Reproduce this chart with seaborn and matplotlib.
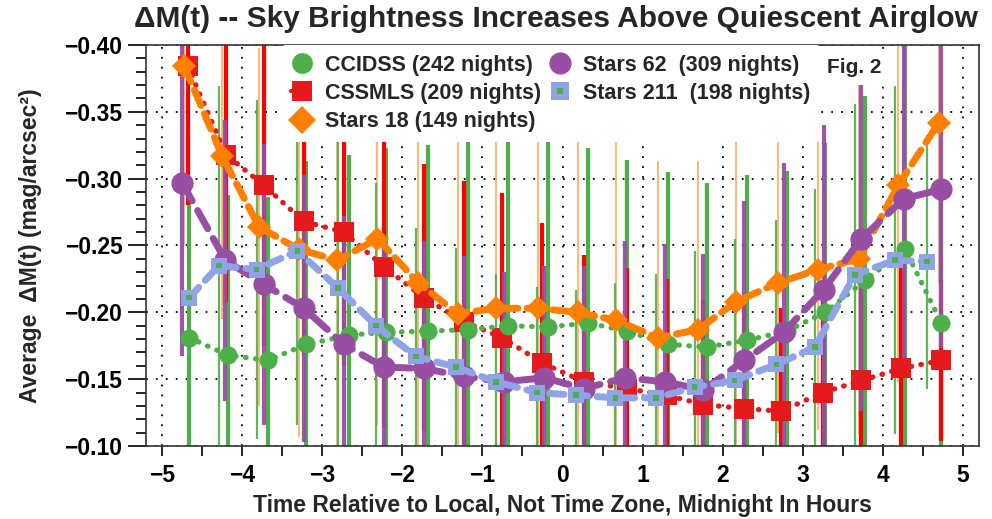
import numpy as np
import pandas as pd
import matplotlib
matplotlib.use("Agg")
import matplotlib.pyplot as plt
import seaborn as sns
from matplotlib.lines import Line2D
from matplotlib.ticker import MultipleLocator, FuncFormatter

# data (hours from local midnight, delta M in mag/arcsec^2)
ccidss_x = [-4.66, -4.18, -3.68, -3.20, -2.66, -2.20, -1.68, -1.18, -0.68, -0.18,
            0.32, 0.80, 1.32, 1.80, 2.30, 2.80, 3.28, 3.78, 4.28, 4.73]
ccidss_y = [-0.181, -0.168, -0.164, -0.176, -0.183, -0.185, -0.186, -0.187, -0.190, -0.189,
            -0.192, -0.186, -0.176, -0.174, -0.179, -0.186, -0.200, -0.224, -0.247, -0.192]
ccidss_err = [0.116, 0.12, 0.122, 0.137, 0.135, 0.138, 0.139, 0.143, 0.142, 0.142,
              0.131, 0.128, 0.129, 0.123, 0.124, 0.12, 0.127, 0.138, 0.16, 0.095]

cssmls_x = [-4.68, -4.20, -3.73, -3.23, -2.73, -2.23, -1.73, -1.23, -0.75, -0.25,
            0.27, 0.80, 1.30, 1.76, 2.26, 2.73, 3.25, 3.73, 4.23, 4.73]
cssmls_y = [-0.384, -0.318, -0.295, -0.268, -0.260, -0.234, -0.211, -0.193, -0.181, -0.162,
            -0.148, -0.143, -0.138, -0.131, -0.128, -0.126, -0.140, -0.149, -0.158, -0.164]
cssmls_err = [0.104, 0.11, 0.12, 0.1, 0.1, 0.12, 0.1, 0.105, 0.108, 0.105,
              0.095, 0.09, 0.087, 0.078, 0.08, 0.077, 0.08, 0.09, 0.09, 0.06]

stars18_x = [-4.72, -4.25, -3.79, -3.29, -2.81, -2.31, -1.80, -1.31, -0.83, -0.31,
             0.19, 0.67, 1.19, 1.69, 2.17, 2.69, 3.19, 3.70, 4.19, 4.70]
stars18_y = [-0.384, -0.317, -0.264, -0.247, -0.239, -0.255, -0.222, -0.199, -0.203, -0.203,
             -0.200, -0.194, -0.181, -0.187, -0.208, -0.222, -0.232, -0.240, -0.295, -0.342]
stars18_err = [0.134, 0.122, 0.134, 0.14, 0.14, 0.14, 0.13, 0.13, 0.14, 0.14,
               0.14, 0.137, 0.132, 0.126, 0.121, 0.112, 0.12, 0.132, 0.147, 0.12]

stars62_x = [-4.75, -4.21, -3.73, -3.23, -2.73, -2.23, -1.73, -1.23, -0.73, -0.23,
             0.27, 0.78, 1.28, 1.76, 2.27, 2.76, 3.26, 3.73, 4.26, 4.73]
stars62_y = [-0.297, -0.239, -0.221, -0.203, -0.176, -0.159, -0.158, -0.152, -0.148, -0.151,
             -0.143, -0.151, -0.148, -0.142, -0.164, -0.185, -0.217, -0.255, -0.285, -0.292]
stars62_err = [0.13, 0.105, 0.105, 0.10, 0.096, 0.095, 0.095, 0.09, 0.082, 0.084,
               0.092, 0.102, 0.103, 0.102, 0.119, 0.127, 0.123, 0.129, 0.134, 0.119]

stars211_x = [-4.66, -4.29, -3.82, -3.31, -2.80, -2.33, -1.83, -1.33, -0.83, -0.32,
              0.17, 0.66, 1.17, 1.65, 2.15, 2.67, 3.15, 3.65, 4.15, 4.55]
stars211_y = [-0.211, -0.235, -0.232, -0.246, -0.218, -0.190, -0.167, -0.159, -0.148, -0.140,
              -0.138, -0.136, -0.136, -0.144, -0.149, -0.161, -0.174, -0.228, -0.239, -0.238]
stars211_err = [0.12, 0.134, 0.127, 0.13, 0.13, 0.107, 0.096, 0.089, 0.081, 0.079,
                0.079, 0.086, 0.093, 0.102, 0.106, 0.108, 0.118, 0.128, 0.13, 0.095]

labels = ["CCIDSS (242 nights)", "CSSMLS (209 nights)", "Stars 18 (149 nights)",
          "Stars 62  (309 nights)", "Stars 211  (198 nights)"]

GREEN = "#4daf4a"
RED = "#e41a1c"
ORANGE = "#ff7f00"
PURPLE = "#984ea3"
LBLUE = "#8fa3e6"

sns.set_theme(style="white")
plt.rcParams["font.family"] = ["Liberation Sans", "DejaVu Sans"]
plt.rcParams["font.weight"] = "bold"
plt.rcParams["axes.unicode_minus"] = True

fig = plt.figure(figsize=(9.92, 5.19), dpi=100)
ax = fig.add_axes([0.1472, 0.1407, 0.8397, 0.7726])

# error bars first
ax.errorbar(stars18_x, stars18_y, yerr=stars18_err, fmt="none", ecolor="#ff9933",
            elinewidth=1.3, alpha=0.75, zorder=2)
ax.errorbar(stars211_x, stars211_y, yerr=stars211_err, fmt="none", ecolor=GREEN,
            elinewidth=1.6, alpha=0.9, zorder=2.1)
ax.errorbar(ccidss_x, ccidss_y, yerr=ccidss_err, fmt="none", ecolor=GREEN,
            elinewidth=3, zorder=2.2)
ax.errorbar(cssmls_x, cssmls_y, yerr=cssmls_err, fmt="none", ecolor="#ff0000",
            elinewidth=3, zorder=2.3)
ax.errorbar(stars62_x, stars62_y, yerr=stars62_err, fmt="none", ecolor=PURPLE,
            elinewidth=3, alpha=0.95, zorder=2.4)

dotted = (0, (0.1, 1.8))
series = [
    (ccidss_x, ccidss_y, dict(color=GREEN, lw=3.8, linestyle=dotted, marker="o", markersize=13, zorder=4)),
    (cssmls_x, cssmls_y, dict(color=RED, lw=3.8, linestyle=dotted, marker="s", markersize=14, zorder=3)),
    (stars18_x, stars18_y, dict(color=ORANGE, lw=5, linestyle=(0, (2.4, 1.3)), marker="D", markersize=12, zorder=5)),
    (stars62_x, stars62_y, dict(color=PURPLE, lw=5, linestyle=(0, (3.0, 1.6)), marker="o", markersize=16, zorder=6)),
    (stars211_x, stars211_y, dict(color=LBLUE, lw=5, linestyle=(0, (2.0, 1.4)), marker="s", markersize=12, zorder=7)),
]
for xs, ys, kw in series:
    df = pd.DataFrame({"x": xs, "y": ys})
    sns.lineplot(data=df, x="x", y="y", ax=ax, sort=False, estimator=None, errorbar=None,
                 dash_capstyle="round", markeredgewidth=0, **kw)

# green centre of the Stars 211 squares
sns.scatterplot(x=stars211_x, y=stars211_y, ax=ax, marker="s", s=16, color=GREEN,
                edgecolor="none", zorder=8)

ax.set_xlim(-5.2, 5.2)
ax.set_ylim(-0.10, -0.40)
ax.xaxis.set_major_locator(MultipleLocator(1))
ax.xaxis.set_minor_locator(MultipleLocator(0.5))
ax.yaxis.set_major_locator(MultipleLocator(0.05))
ax.yaxis.set_minor_locator(MultipleLocator(0.01))
ax.yaxis.set_major_formatter(FuncFormatter(lambda v, _: f"{v:.2f}".replace("-", "\u2212")))
ax.xaxis.set_major_formatter(FuncFormatter(lambda v, _: f"{v:.0f}".replace("-", "\u2212")))

ax.grid(True, which="major", color="black", linestyle=(0, (1, 4.5)), linewidth=1.3)
ax.set_axisbelow(True)
for sp in ax.spines.values():
    sp.set_visible(True)
    sp.set_color("#333333")
    sp.set_linewidth(1.2)

ax.tick_params(axis="both", which="both", direction="out", colors="black", width=1.2)
ax.tick_params(axis="x", which="both", bottom=True, length=7, pad=6, labelsize=16.5)
ax.tick_params(axis="y", which="major", left=True, length=13, pad=4, labelsize=16.5)
ax.tick_params(axis="y", which="minor", left=True, length=7)

ax.set_xlabel("Time Relative to Local, Not Time Zone, Midnight In Hours",
              fontsize=16.5, fontweight="bold", labelpad=5)
ax.set_ylabel("Average  \u0394M(t) (mag/arcsec\u00b2)", fontsize=16.5,
              fontweight="bold", labelpad=16)

fig.text(0.135, 0.963, "\u0394M(t) -- Sky Brightness Increases Above Quiescent Airglow",
         fontsize=21.5, fontweight="bold", ha="left", va="center")

# legend
handles = [
    Line2D([], [], color=GREEN, marker="o", markersize=15, lw=0, markeredgewidth=0),
    Line2D([], [], color=RED, marker="s", markersize=15, lw=3, linestyle=dotted,
           dash_capstyle="round", markeredgewidth=0),
    Line2D([], [], color=ORANGE, marker="D", markersize=14, lw=0, markeredgewidth=0),
    Line2D([], [], color=PURPLE, marker="o", markersize=16, lw=0, markeredgewidth=0),
    (Line2D([], [], color=LBLUE, marker="s", markersize=13, lw=0, markeredgewidth=0),
     Line2D([], [], color=GREEN, marker="s", markersize=4, lw=0, markeredgewidth=0)),
]
leg = ax.legend(handles, labels, ncol=2, loc="upper left", bbox_to_anchor=(0.163, 1.0),
                frameon=True, facecolor="white", edgecolor="none", framealpha=1,
                prop={"weight": "bold", "size": 15.5}, handlelength=1.0,
                handletextpad=0.55, labelspacing=0.34, columnspacing=0.4,
                borderpad=0.45, borderaxespad=0.0)
leg.set_zorder(20)

ax.text(0.85, 0.945, "Fig. 2", transform=ax.transAxes, fontsize=15, fontweight="bold",
        ha="center", va="center", zorder=21,
        bbox=dict(facecolor="white", edgecolor="none", pad=6))

fig.savefig("out.png", dpi=100)
plt.close(fig)
